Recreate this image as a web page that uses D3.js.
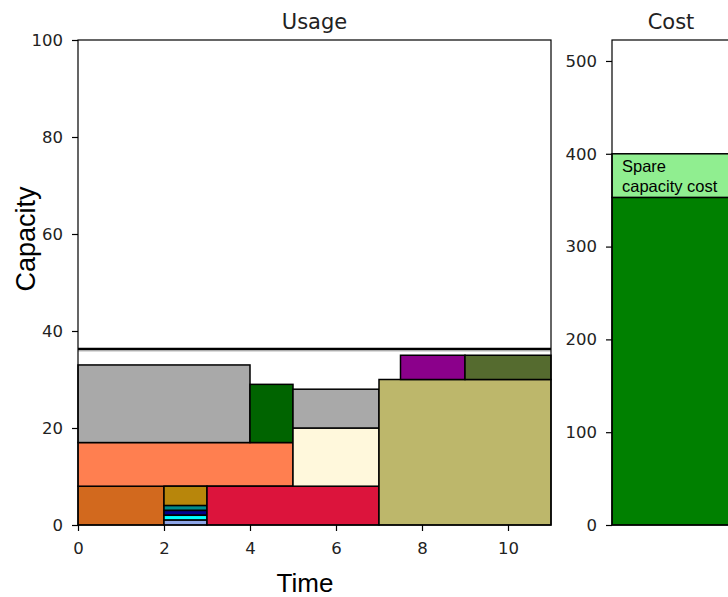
<!DOCTYPE html>
<html><head><meta charset="utf-8">
<script src="https://cdn.jsdelivr.net/npm/d3@7"></script>
<style>body{margin:0;background:#fff}</style>
</head><body>
<svg id="c" width="728" height="597"></svg>
<script>
// Usage blocks: [x0, x1, y0, y1, colour]
const blockX0 = [0, 0, 0, 4, 2, 2, 2, 2, 2, 3, 5, 5, 7, 7.5, 9];
const blockX1 = [2, 5, 4, 5, 3, 3, 3, 3, 3, 7, 7, 7, 11, 9, 11];
const blockY0 = [0, 8, 17, 17, 4, 3, 2, 1, 0, 0, 8, 20, 0, 30, 30];
const blockY1 = [8, 17, 33, 29, 8, 4, 3, 2, 1, 8, 20, 28, 30, 35, 35];
const blockColor = ["#D2691E","#FF7F50","#A9A9A9","#006400","#B8860B","#008B8B","#00008B","#00FFFF","#8DA6E8","#DC143C","#FFF8DC","#A9A9A9","#BDB76B","#8B008B","#556B2F"];
const capacityLine = 36.3;
const xTicks = [0, 2, 4, 6, 8, 10];
const yTicks = [0, 20, 40, 60, 80, 100];
// Cost stack
const costNames = ["Used cost", "Spare capacity cost"];
const costValues = [353, 47];
const costColors = ["#008000", "#90EE90"];
const costTicks = [0, 100, 200, 300, 400, 500];

const svg = d3.select("#c");
const tickFont = "DejaVu Sans, sans-serif";
const labFont = "Liberation Sans, Arial, sans-serif";

// ---------- Usage panel
const x = d3.scaleLinear().domain([0, 11]).range([78, 551]);
const y = d3.scaleLinear().domain([0, 100]).range([525, 40]);
const g = svg.append("g");
g.selectAll("rect.b").data(blockX0).join("rect").attr("class","b")
  .attr("x", (d,i)=>x(blockX0[i])).attr("width",(d,i)=>x(blockX1[i])-x(blockX0[i]))
  .attr("y", (d,i)=>y(blockY1[i])).attr("height",(d,i)=>y(blockY0[i])-y(blockY1[i]))
  .attr("fill",(d,i)=>blockColor[i]).attr("stroke","#000").attr("stroke-width",1.5);
g.append("line").attr("x1",x(0)).attr("x2",x(11)).attr("y1",y(capacityLine)).attr("y2",y(capacityLine))
  .attr("stroke","#000").attr("stroke-width",2.5);
g.append("line").attr("x1",x(0)).attr("x2",x(11)).attr("y1",y(capacityLine)+2).attr("y2",y(capacityLine)+2)
  .attr("stroke","#999").attr("stroke-width",0.8);
// frame
g.append("rect").attr("x",x(0)).attr("y",y(100)).attr("width",x(11)-x(0)).attr("height",y(0)-y(100))
  .attr("fill","none").attr("stroke","#000").attr("stroke-width",1.2);
const xa = g.append("g").attr("transform",`translate(0,${y(0)})`)
  .call(d3.axisBottom(x).tickValues(xTicks).tickSize(6).tickPadding(11));
const ya = g.append("g").attr("transform",`translate(${x(0)},0)`)
  .call(d3.axisLeft(y).tickValues(yTicks).tickSize(6).tickPadding(9));
[xa, ya].forEach(a=>{a.select(".domain").remove();
  a.selectAll("text").attr("font-family",tickFont).attr("font-size",16.5).attr("fill","#222");
  a.selectAll("line").attr("stroke","#000").attr("stroke-width",1.2);});
g.append("text").attr("x",(x(0)+x(11))/2).attr("y",29).attr("text-anchor","middle")
  .attr("font-family",tickFont).attr("font-size",21).attr("fill","#222").text("Usage");
g.append("text").attr("x",305).attr("y",592).attr("text-anchor","middle")
  .attr("font-family",labFont).attr("font-size",26).attr("fill","#000").text("Time");
g.append("text").attr("transform","translate(35,239) rotate(-90)").attr("text-anchor","middle")
  .attr("font-family",labFont).attr("font-size",27).attr("fill","#000").text("Capacity");

// ---------- Cost panel
const cx0 = 612, cx1 = 830;
const cy = d3.scaleLinear().domain([0, 522.6]).range([525, 40]);
const gc = svg.append("g");
let acc = 0;
const stack = costValues.map((v,i)=>{const s={y0:acc,y1:acc+v,c:costColors[i],n:costNames[i]}; acc+=v; return s;});
gc.selectAll("rect.c").data(stack).join("rect").attr("class","c")
  .attr("x",cx0).attr("width",cx1-cx0).attr("y",d=>cy(d.y1)).attr("height",d=>cy(d.y0)-cy(d.y1))
  .attr("fill",d=>d.c).attr("stroke","#000").attr("stroke-width",1.5);
gc.append("rect").attr("x",cx0).attr("y",cy(522.6)).attr("width",cx1-cx0).attr("height",cy(0)-cy(522.6))
  .attr("fill","none").attr("stroke","#000").attr("stroke-width",1.2);
const ca = gc.append("g").attr("transform",`translate(${cx0},0)`)
  .call(d3.axisLeft(cy).tickValues(costTicks).tickSize(6).tickPadding(9));
ca.select(".domain").remove();
ca.selectAll("text").attr("font-family",tickFont).attr("font-size",16.5).attr("fill","#222");
ca.selectAll("line").attr("stroke","#000").attr("stroke-width",1.2);
gc.append("text").attr("x",671).attr("y",29).attr("text-anchor","middle")
  .attr("font-family",tickFont).attr("font-size",21).attr("fill","#222").text("Cost");
const sp = gc.append("text").attr("font-family",labFont).attr("font-size",16.5).attr("fill","#000");
sp.append("tspan").attr("x",622).attr("y",cy(stack[1].y1)+18).text("Spare");
sp.append("tspan").attr("x",622).attr("y",cy(stack[1].y1)+38).text("capacity cost");
</script>
</body></html>
